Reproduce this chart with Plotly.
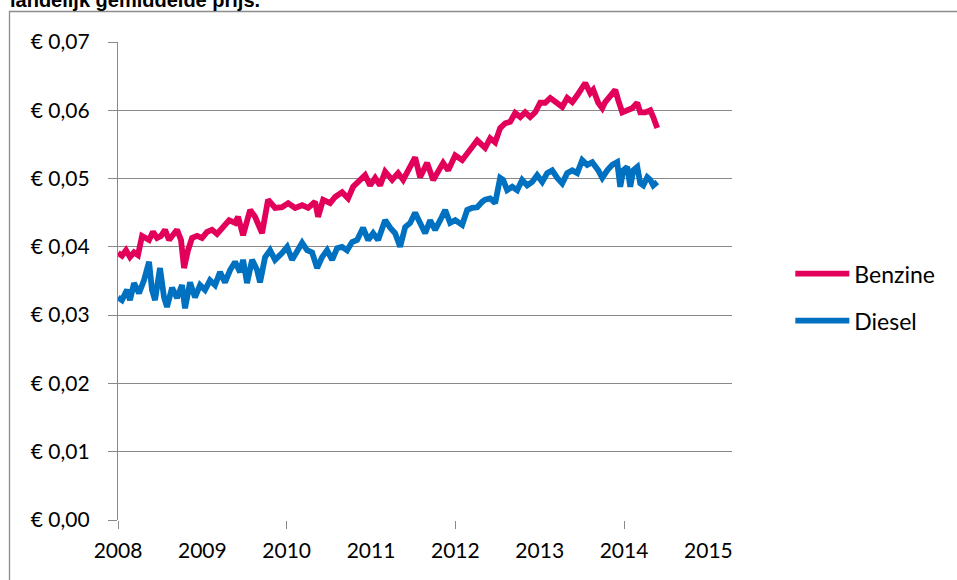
import plotly.graph_objects as go

# ---- data ----
benzine_year = [2008.000, 2008.047, 2008.095, 2008.142, 2008.190, 2008.237, 2008.285, 2008.320, 2008.368, 2008.415,
                2008.463, 2008.510, 2008.558, 2008.605, 2008.652, 2008.700, 2008.747, 2008.783, 2008.830, 2008.878,
                2008.937, 2008.996, 2009.056, 2009.115, 2009.174, 2009.234, 2009.317, 2009.388, 2009.423, 2009.483,
                2009.566, 2009.625, 2009.708, 2009.779, 2009.862, 2009.945, 2010.017, 2010.100, 2010.183, 2010.254,
                2010.337, 2010.372, 2010.432, 2010.515, 2010.574, 2010.657, 2010.728, 2010.788, 2010.871, 2010.930,
                2010.989, 2011.049, 2011.108, 2011.167, 2011.250, 2011.321, 2011.381, 2011.440, 2011.523, 2011.582,
                2011.665, 2011.737, 2011.796, 2011.855, 2011.915, 2011.998, 2012.081, 2012.140, 2012.199, 2012.259,
                2012.318, 2012.353, 2012.413, 2012.472, 2012.531, 2012.591, 2012.650, 2012.709, 2012.769, 2012.828,
                2012.887, 2012.947, 2013.006, 2013.065, 2013.125, 2013.184, 2013.267, 2013.326, 2013.386, 2013.445,
                2013.504, 2013.540, 2013.599, 2013.635, 2013.694, 2013.742, 2013.777, 2013.836, 2013.896, 2013.931,
                2013.979, 2014.038, 2014.097, 2014.157, 2014.192, 2014.251, 2014.311, 2014.346, 2014.394]
benzine_price = [0.0391, 0.0387, 0.0395, 0.0385, 0.0392, 0.0388, 0.0416, 0.0413, 0.0410, 0.0422,
                 0.0413, 0.0416, 0.0425, 0.0410, 0.0419, 0.0425, 0.0410, 0.0369, 0.0395, 0.0413,
                 0.0416, 0.0413, 0.0422, 0.0425, 0.0419, 0.0428, 0.0439, 0.0435, 0.0444, 0.0417,
                 0.0454, 0.0444, 0.0420, 0.0469, 0.0457, 0.0458, 0.0464, 0.0457, 0.0461, 0.0457,
                 0.0466, 0.0444, 0.0469, 0.0464, 0.0473, 0.0480, 0.0471, 0.0488, 0.0498, 0.0505,
                 0.0490, 0.0501, 0.0490, 0.0510, 0.0498, 0.0508, 0.0498, 0.0512, 0.0531, 0.0502,
                 0.0523, 0.0498, 0.0512, 0.0523, 0.0512, 0.0534, 0.0527, 0.0537, 0.0546, 0.0556,
                 0.0549, 0.0545, 0.0559, 0.0553, 0.0574, 0.0581, 0.0583, 0.0596, 0.0590, 0.0597,
                 0.0590, 0.0597, 0.0611, 0.0611, 0.0618, 0.0612, 0.0605, 0.0618, 0.0612, 0.0622,
                 0.0633, 0.0640, 0.0625, 0.0630, 0.0611, 0.0603, 0.0612, 0.0622, 0.0630, 0.0615,
                 0.0597, 0.0600, 0.0603, 0.0611, 0.0597, 0.0597, 0.0600, 0.0590, 0.0574]

diesel_year = [2008.000, 2008.047, 2008.107, 2008.142, 2008.190, 2008.249, 2008.308, 2008.368, 2008.403, 2008.439,
               2008.498, 2008.546, 2008.581, 2008.641, 2008.700, 2008.759, 2008.795, 2008.854, 2008.913, 2008.973,
               2009.032, 2009.091, 2009.151, 2009.210, 2009.269, 2009.329, 2009.388, 2009.447, 2009.483, 2009.530,
               2009.590, 2009.649, 2009.684, 2009.744, 2009.803, 2009.862, 2009.945, 2010.005, 2010.064, 2010.123,
               2010.183, 2010.242, 2010.301, 2010.361, 2010.420, 2010.479, 2010.539, 2010.598, 2010.657, 2010.716,
               2010.776, 2010.835, 2010.871, 2010.906, 2010.966, 2011.025, 2011.084, 2011.167, 2011.227, 2011.286,
               2011.345, 2011.405, 2011.464, 2011.523, 2011.582, 2011.642, 2011.701, 2011.760, 2011.820, 2011.879,
               2011.938, 2011.998, 2012.081, 2012.140, 2012.199, 2012.259, 2012.318, 2012.353, 2012.413, 2012.472,
               2012.531, 2012.567, 2012.614, 2012.674, 2012.733, 2012.792, 2012.852, 2012.911, 2012.970, 2013.030,
               2013.089, 2013.148, 2013.208, 2013.267, 2013.326, 2013.386, 2013.445, 2013.504, 2013.563, 2013.623,
               2013.694, 2013.742, 2013.801, 2013.860, 2013.919, 2013.955, 2013.991, 2014.038, 2014.074, 2014.109,
               2014.157, 2014.192, 2014.228, 2014.275, 2014.311, 2014.346, 2014.394]
diesel_price = [0.0326, 0.0322, 0.0337, 0.0322, 0.0347, 0.0332, 0.0351, 0.0378, 0.0337, 0.0322,
                0.0369, 0.0326, 0.0312, 0.0340, 0.0325, 0.0344, 0.0310, 0.0348, 0.0326, 0.0344,
                0.0337, 0.0351, 0.0344, 0.0363, 0.0348, 0.0366, 0.0378, 0.0363, 0.0381, 0.0347,
                0.0381, 0.0366, 0.0348, 0.0385, 0.0395, 0.0381, 0.0391, 0.0400, 0.0381, 0.0395,
                0.0406, 0.0395, 0.0392, 0.0369, 0.0385, 0.0395, 0.0381, 0.0398, 0.0400, 0.0395,
                0.0407, 0.0410, 0.0420, 0.0428, 0.0410, 0.0420, 0.0410, 0.0439, 0.0428, 0.0420,
                0.0400, 0.0429, 0.0435, 0.0450, 0.0435, 0.0420, 0.0439, 0.0425, 0.0439, 0.0454,
                0.0435, 0.0439, 0.0432, 0.0454, 0.0457, 0.0458, 0.0466, 0.0469, 0.0471, 0.0464,
                0.0501, 0.0498, 0.0483, 0.0488, 0.0483, 0.0498, 0.0490, 0.0495, 0.0505, 0.0495,
                0.0508, 0.0512, 0.0501, 0.0493, 0.0508, 0.0512, 0.0508, 0.0527, 0.0520, 0.0524,
                0.0512, 0.0501, 0.0512, 0.0520, 0.0524, 0.0488, 0.0512, 0.0517, 0.0488, 0.0512,
                0.0517, 0.0493, 0.0490, 0.0502, 0.0498, 0.0490, 0.0495]

year_ticks = [2008, 2009, 2010, 2011, 2012, 2013, 2014, 2015]
year_labels = ["2008", "2009", "2010", "2011", "2012", "2013", "2014", "2015"]
major_year_ticks = [2008, 2010, 2012, 2014]
price_ticks = [0.00, 0.01, 0.02, 0.03, 0.04, 0.05, 0.06, 0.07]
price_labels = ["€ 0,00", "€ 0,01", "€ 0,02", "€ 0,03", "€ 0,04", "€ 0,05", "€ 0,06", "€ 0,07"]
series_names = ["Benzine", "Diesel"]
title_text = "landelijk gemiddelde prijs."

BENZ_COLOR = "#E2005A"
DIES_COLOR = "#0070C0"
GRID = "#898989"
FONT = "Lato"

fig = go.Figure()
fig.add_trace(go.Scatter(x=benzine_year, y=benzine_price, mode="lines", name=series_names[0],
                         legendgroup="b", line=dict(color=BENZ_COLOR, width=5.8)))
# Diesel drawn on the overlay axis x2 (identical range) which carries the 2-yearly tick marks
fig.add_trace(go.Scatter(x=diesel_year, y=diesel_price, mode="lines", name=series_names[1],
                         legendgroup="d", xaxis="x2", line=dict(color=DIES_COLOR, width=5.8)))

xrange = [2008, 2015.28]
fig.update_layout(
    width=957, height=580,
    margin=dict(l=118, r=225, t=42, b=60),
    paper_bgcolor="white", plot_bgcolor="white",
    font=dict(family=FONT, size=21, color="black"),
    showlegend=True,
    legend=dict(x=1.095, y=0.466, xanchor="left", yanchor="middle",
                traceorder="grouped", tracegroupgap=14, itemwidth=54,
                font=dict(family=FONT, size=23, color="black"), bgcolor="rgba(0,0,0,0)"),
    xaxis=dict(range=xrange, tickvals=year_ticks, ticktext=year_labels, ticks="",
               showgrid=False, zeroline=False, showline=False, ticklabelstandoff=16,
               tickfont=dict(family=FONT, size=21)),
    xaxis2=dict(range=xrange, overlaying="x", side="bottom", tickvals=major_year_ticks,
                ticks="outside", ticklen=8, tickcolor=GRID, tickwidth=1.3,
                showticklabels=False, showgrid=False, zeroline=False, showline=False),
    yaxis=dict(range=[0, 0.07], tickvals=price_ticks, ticktext=price_labels,
               ticks="outside", ticklen=9, tickcolor=GRID, tickwidth=1.3,
               showgrid=True, gridcolor=GRID, gridwidth=1.3,
               showline=True, linecolor=GRID, linewidth=1.3,
               zeroline=False, ticklabelstandoff=14,
               tickfont=dict(family=FONT, size=21)),
)

# chart frame
fig.add_shape(type="rect", xref="paper", yref="paper",
              x0=(9.5 - 118) / 614, x1=(965 - 118) / 614,
              y0=(520 - 590) / 478, y1=(520 - 11.5) / 478,
              line=dict(color="#8c8c8c", width=1.3), fillcolor="rgba(0,0,0,0)", layer="below")

# title (cut off at the top as in the reference)
fig.add_annotation(text="<b>" + title_text + "</b>", xref="paper", yref="paper",
                   x=(8 - 118) / 614, y=(520 - 13) / 478, xanchor="left", yanchor="bottom",
                   showarrow=False, font=dict(family="Liberation Sans", size=20, color="black"))

fig.write_html("out.html", config={"displayModeBar": False},
               post_script="document.body.style.margin='0';document.body.style.overflow='hidden';")
